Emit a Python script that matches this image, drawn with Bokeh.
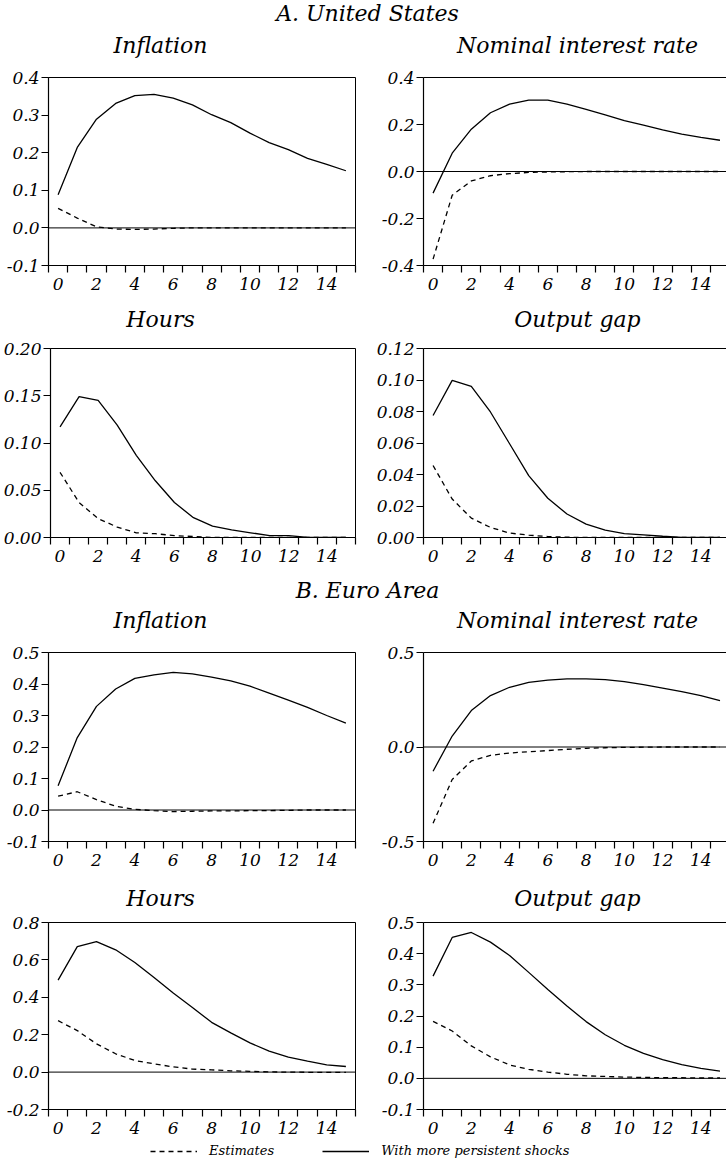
from bokeh.plotting import figure
from bokeh.layouts import column, row
from bokeh.models import (FixedTicker, NumeralTickFormatter, Span, Range1d,
                          Legend, LegendItem, LinearAxis)
from bokeh.core.properties import value
from bokeh.embed import file_html
from bokeh.resources import INLINE

# ---------------- data ----------------
horizon = list(range(16))
x_label_ticks = [0, 2, 4, 6, 8, 10, 12, 14]

section_a = "A. United States"
section_b = "B. Euro Area"
panel_titles = ["Inflation", "Nominal interest rate", "Hours", "Output gap"]
legend_labels = ["Estimates", "With more persistent shocks"]

us_infl_pers = [0.088, 0.214, 0.289, 0.331, 0.352, 0.355, 0.345, 0.327, 0.301, 0.280, 0.252, 0.227, 0.208, 0.185, 0.169, 0.152]
us_infl_est = [0.052, 0.026, 0.003, -0.003, -0.004, -0.003, -0.001, 0.0, 0.0, 0.0, 0.0, 0.0, 0.0, 0.0, 0.0, 0.0]

us_rate_pers = [-0.092, 0.078, 0.180, 0.250, 0.287, 0.304, 0.304, 0.287, 0.264, 0.241, 0.216, 0.197, 0.177, 0.159, 0.145, 0.133]
us_rate_est = [-0.373, -0.101, -0.040, -0.018, -0.009, -0.004, -0.002, -0.001, 0.0, 0.0, 0.0, 0.0, 0.0, 0.0, 0.0, 0.0]

us_hours_pers = [0.117, 0.149, 0.145, 0.119, 0.087, 0.060, 0.037, 0.021, 0.012, 0.008, 0.005, 0.002, 0.002, 0.0, 0.0, 0.0]
us_hours_est = [0.069, 0.037, 0.020, 0.011, 0.005, 0.004, 0.002, 0.001, 0.0, 0.0, 0.0, 0.0, 0.0, 0.0, 0.0, 0.0]

us_gap_pers = [0.0775, 0.0998, 0.0960, 0.0797, 0.0595, 0.0393, 0.0249, 0.0149, 0.0085, 0.0047, 0.0025, 0.0017, 0.0008, 0.0, 0.0, 0.0]
us_gap_est = [0.0457, 0.0244, 0.0123, 0.0064, 0.0028, 0.0015, 0.0006, 0.0002, 0.0, 0.0, 0.0, 0.0, 0.0, 0.0, 0.0, 0.0]

ea_infl_pers = [0.077, 0.230, 0.329, 0.384, 0.418, 0.429, 0.437, 0.432, 0.422, 0.410, 0.393, 0.371, 0.349, 0.326, 0.300, 0.276]
ea_infl_est = [0.044, 0.058, 0.033, 0.012, 0.002, -0.002, -0.005, -0.004, -0.003, -0.003, -0.002, -0.002, -0.001, 0.0, 0.0, 0.0]

ea_rate_pers = [-0.128, 0.058, 0.193, 0.272, 0.316, 0.342, 0.354, 0.360, 0.360, 0.356, 0.346, 0.330, 0.312, 0.293, 0.272, 0.246]
ea_rate_est = [-0.404, -0.172, -0.074, -0.044, -0.032, -0.025, -0.019, -0.012, -0.007, -0.004, -0.002, -0.001, 0.0, 0.0, 0.0, 0.0]

ea_hours_pers = [0.492, 0.671, 0.698, 0.654, 0.586, 0.506, 0.423, 0.346, 0.266, 0.210, 0.156, 0.112, 0.080, 0.059, 0.039, 0.030]
ea_hours_est = [0.275, 0.222, 0.151, 0.098, 0.062, 0.044, 0.028, 0.016, 0.012, 0.007, 0.004, 0.001, 0.0, -0.001, -0.001, -0.001]

ea_gap_pers = [0.328, 0.452, 0.468, 0.437, 0.394, 0.340, 0.285, 0.232, 0.182, 0.140, 0.106, 0.080, 0.060, 0.044, 0.032, 0.023]
ea_gap_est = [0.183, 0.152, 0.104, 0.069, 0.043, 0.029, 0.020, 0.013, 0.008, 0.006, 0.004, 0.003, 0.002, 0.002, 0.001, 0.001]

# y-axis settings per panel: (low, high, ticks, format)
us_infl_axis = (-0.1, 0.4, [-0.1, 0.0, 0.1, 0.2, 0.3, 0.4], "0.0")
us_rate_axis = (-0.4, 0.4, [-0.4, -0.2, 0.0, 0.2, 0.4], "0.0")
us_hours_axis = (0.0, 0.2, [0.0, 0.05, 0.10, 0.15, 0.20], "0.00")
us_gap_axis = (0.0, 0.12, [0.0, 0.02, 0.04, 0.06, 0.08, 0.10, 0.12], "0.00")
ea_infl_axis = (-0.1, 0.5, [-0.1, 0.0, 0.1, 0.2, 0.3, 0.4, 0.5], "0.0")
ea_rate_axis = (-0.5, 0.5, [-0.5, 0.0, 0.5], "0.0")
ea_hours_axis = (-0.2, 0.8, [-0.2, 0.0, 0.2, 0.4, 0.6, 0.8], "0.0")
ea_gap_axis = (-0.1, 0.5, [-0.1, 0.0, 0.1, 0.2, 0.3, 0.4, 0.5], "0.0")

# ---------------- style ----------------
FONT = "DejaVu Serif"
DASH = "5 4"
LW = 1.3
TOP = 10
BOTTOM = 33
PAGE_W = 726


def panel(est, pers, axis_spec, side, frame_h):
    lo, hi, yticks, fmt = axis_spec
    if side == "left":
        width, bl, br, x_end = 363, 48, 8, 15.5
    else:
        # frame runs past the page edge in the original: clip the x range
        width, bl, br, x_end = 363, 60, 0, 15.34
    p = figure(width=width, height=TOP + frame_h + BOTTOM,
               x_range=Range1d(-0.5, x_end), y_range=Range1d(lo, hi),
               toolbar_location=None, output_backend="svg",
               min_border_left=bl, min_border_right=br,
               min_border_top=TOP, min_border_bottom=BOTTOM)
    p.xgrid.visible = False
    p.ygrid.visible = False

    xa = p.below[0]
    xa.ticker = FixedTicker(ticks=x_label_ticks,
                            minor_ticks=[i - 0.5 for i in range(17)])
    xa.major_tick_out = 0
    xa.major_tick_in = 0
    xa.minor_tick_out = 7
    xa.minor_tick_in = 0
    xa.minor_tick_line_color = "black"
    xa.minor_tick_line_width = 1.2
    xa.axis_line_width = 1.2
    xa.axis_line_color = "black"
    xa.major_label_standoff = 5

    ya = p.left[0]
    ya.ticker = FixedTicker(ticks=yticks)
    ya.formatter = NumeralTickFormatter(format=fmt)
    ya.major_tick_out = 7
    ya.major_tick_in = 0
    ya.minor_tick_line_color = None
    ya.axis_line_width = 1.2
    ya.axis_line_color = "black"
    ya.major_tick_line_width = 1.2
    ya.major_label_standoff = 2

    for ax in (xa, ya):
        ax.major_label_text_font = FONT
        ax.major_label_text_font_style = "italic"
        ax.major_label_text_font_size = "17px"
        ax.major_label_text_color = "black"

    if side == "left":
        p.outline_line_color = "black"
        p.outline_line_width = 1
    else:
        p.outline_line_color = None
        top = LinearAxis(ticker=FixedTicker(ticks=[]), axis_line_color="black",
                         axis_line_width=1.2, major_tick_out=0, major_tick_in=0,
                         minor_tick_out=0, minor_tick_in=0,
                         major_label_standoff=0,
                         major_label_text_font_size="0px")
        p.add_layout(top, "above")

    if lo < 0:
        p.add_layout(Span(location=0, dimension="width", line_color="black",
                          line_width=1))

    p.line(horizon, est, line_color="black", line_width=LW, line_dash=DASH)
    p.line(horizon, pers, line_color="black", line_width=LW)
    return p


def strip(height, texts):
    """texts: list of (text, x_center_px, y_from_top_px)"""
    s = figure(width=PAGE_W, height=height, x_range=Range1d(0, PAGE_W),
               y_range=Range1d(0, height), toolbar_location=None,
               output_backend="svg", min_border=0)
    s.axis.visible = False
    s.grid.visible = False
    s.outline_line_color = None
    s.text(x=[t[1] for t in texts], y=[height - t[2] for t in texts],
           text=[t[0] for t in texts], text_align="center",
           text_baseline="middle", text_font=value(FONT),
           text_font_style="italic", text_font_size="22px", text_color="black")
    return s


LX, RX, CX = 160, 577, 367

s1 = strip(67, [(section_a, CX, 13), (panel_titles[0], LX, 45), (panel_titles[1], RX, 45)])
r1 = row(panel(us_infl_est, us_infl_pers, us_infl_axis, "left", 188),
         panel(us_rate_est, us_rate_pers, us_rate_axis, "right", 188))
s2 = strip(40, [(panel_titles[2], LX, 21), (panel_titles[3], RX, 21)])
r2 = row(panel(us_hours_est, us_hours_pers, us_hours_axis, "left", 189),
         panel(us_gap_est, us_gap_pers, us_gap_axis, "right", 189))
s3 = strip(72, [(section_b, CX, 20), (panel_titles[0], LX, 50), (panel_titles[1], RX, 50)])
r3 = row(panel(ea_infl_est, ea_infl_pers, ea_infl_axis, "left", 189),
         panel(ea_rate_est, ea_rate_pers, ea_rate_axis, "right", 189))
s4 = strip(38, [(panel_titles[2], LX, 24), (panel_titles[3], RX, 24)])
r4 = row(panel(ea_hours_est, ea_hours_pers, ea_hours_axis, "left", 187),
         panel(ea_gap_est, ea_gap_pers, ea_gap_axis, "right", 187))

# legend strip: series drawn off-view, legend shows their line styles
lg = figure(width=PAGE_W, height=20, x_range=Range1d(100, 101), y_range=Range1d(0, 1),
            toolbar_location=None, output_backend="svg", min_border=0)
lg.axis.visible = False
lg.grid.visible = False
lg.outline_line_color = None
r_est = lg.line(horizon, ea_hours_est, line_color="black", line_width=LW, line_dash=DASH)
r_pers = lg.line(horizon, ea_hours_pers, line_color="black", line_width=LW)
leg = Legend(items=[LegendItem(label=legend_labels[0], renderers=[r_est]),
                    LegendItem(label=legend_labels[1], renderers=[r_pers])],
             orientation="horizontal", location=(150, 4),
             glyph_width=47, glyph_height=14, label_standoff=12, spacing=48,
             padding=0, margin=0, border_line_color=None,
             background_fill_alpha=0,
             label_text_font=FONT, label_text_font_style="italic",
             label_text_font_size="13px", label_text_color="black",
             label_height=14)
lg.add_layout(leg, "center")

layout = column(s1, r1, s2, r2, s3, r3, s4, r4, lg, spacing=0)

with open("out.html", "w") as f:
    f.write(file_html(layout, INLINE))
